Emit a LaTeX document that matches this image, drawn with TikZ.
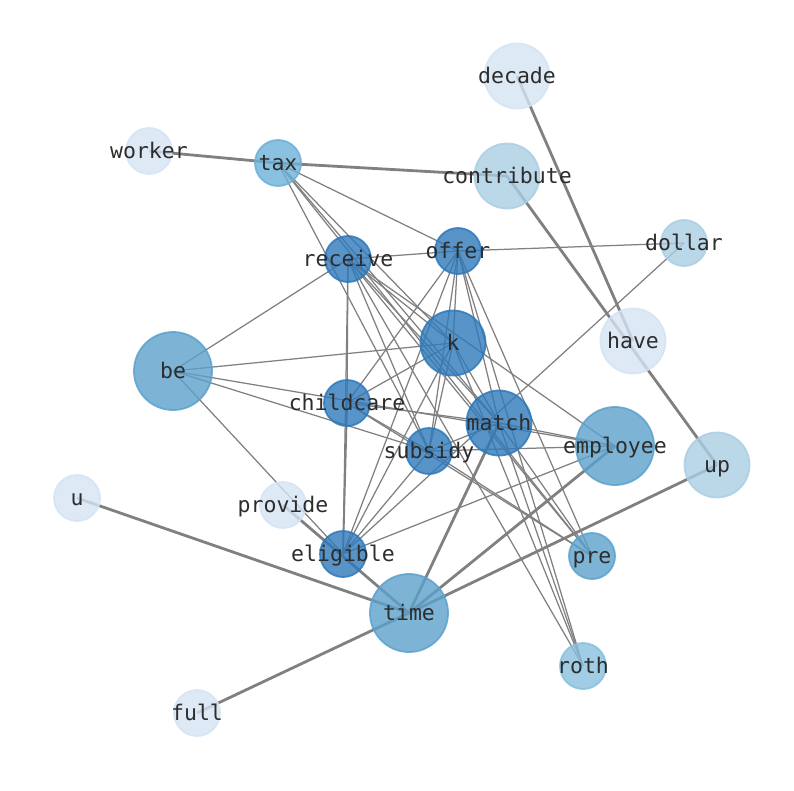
\documentclass[tikz,border=0pt]{standalone}
\usepackage{fontspec}
\setmonofont{DejaVu Sans Mono}
\usetikzlibrary{backgrounds}
\definecolor{cdark}{RGB}{46,121,186}
\definecolor{cmed}{RGB}{92,161,204}
\definecolor{ctax}{RGB}{109,176,216}
\definecolor{croth}{RGB}{136,191,221}
\definecolor{clight}{RGB}{170,206,228}
\definecolor{cvlight}{RGB}{212,227,243}
\definecolor{labelgray}{RGB}{45,45,45}
\definecolor{edgegray}{RGB}{128,128,128}
\tikzset{
  wnode/.style={circle, inner sep=0pt, minimum size=#1, fill opacity=0.8, draw opacity=0.85, line width=1.8pt},
  small/.style={wnode=46pt},
  mid/.style={wnode=65pt},
  big/.style={wnode=78pt},
  dk/.style={fill=cdark, draw=cdark},
  md/.style={fill=cmed, draw=cmed},
  tx/.style={fill=ctax, draw=ctax},
  rt/.style={fill=croth, draw=croth},
  lt/.style={fill=clight, draw=clight},
  vl/.style={fill=cvlight, draw=cvlight},
  lbl/.style={anchor=base, font=\fontsize{21.5}{24}\selectfont\ttfamily, text=labelgray, inner sep=0pt},
  ethin/.style={draw=edgegray, line width=1.25pt},
  emid/.style={draw=edgegray, line width=1.9pt},
  ethick/.style={draw=edgegray, line width=2.8pt}
}
\begin{document}
\begin{tikzpicture}[x=1pt,y=-1pt]
\useasboundingbox (0,0) rectangle (794,790);
% nodes (circles)
\node[mid,vl] (decade) at (517,76) {};
\node[small,vl] (worker) at (149,151) {};
\node[small,tx] (tax) at (278,163) {};
\node[mid,lt] (contribute) at (507,176) {};
\node[small,lt] (dollar) at (684,243) {};
\node[small,dk] (offer) at (458,251) {};
\node[small,dk] (receive) at (348,259) {};
\node[mid,vl] (have) at (633,341) {};
\node[mid,dk] (k) at (453,343) {};
\node[big,md] (be) at (173,371) {};
\node[small,dk] (childcare) at (347,403) {};
\node[mid,dk] (match) at (499,423) {};
\node[big,md] (employee) at (615,446) {};
\node[small,dk] (subsidy) at (429,451) {};
\node[mid,lt] (up) at (717,465) {};
\node[small,vl] (u) at (77,498) {};
\node[small,vl] (provide) at (283,505) {};
\node[small,dk] (eligible) at (343,554) {};
\node[small,md] (pre) at (592,556) {};
\node[big,md] (time) at (409,613) {};
\node[small,rt] (roth) at (583,666) {};
\node[small,vl] (full) at (197,713) {};
% edges
\begin{scope}[on background layer]
\draw[ethick] (worker.center) -- (tax.center);
\draw[ethick] (tax.center) -- (contribute.center);
\draw[ethick] (decade.center) -- (have.center);
\draw[ethick] (contribute.center) -- (up.center);
\draw[ethick] (u.center) -- (time.center);
\draw[ethick] (full.center) -- (time.center);
\draw[ethick] (provide.center) -- (time.center);
\draw[ethick] (match.center) -- (time.center);
\draw[ethick] (employee.center) -- (time.center);
\draw[ethick] (up.center) -- (time.center);
\draw[emid] (childcare.center) -- (eligible.center);
\foreach \a/\b in {tax/offer, tax/subsidy, tax/k, tax/match, tax/pre,
  receive/offer, receive/be, receive/childcare, receive/eligible, receive/subsidy, receive/k, receive/match, receive/employee, receive/pre, receive/roth,
  offer/dollar, offer/k, offer/childcare, offer/subsidy, offer/eligible, offer/match, offer/pre, offer/roth,
  k/be, k/childcare, k/subsidy, k/eligible, k/match, k/roth,
  be/employee, be/subsidy, be/eligible,
  childcare/match, childcare/subsidy, childcare/pre,
  match/subsidy, match/employee, match/pre, match/roth,
  subsidy/employee, subsidy/eligible, subsidy/pre,
  employee/eligible, dollar/eligible}
  \draw[ethin] (\a.center) -- (\b.center);
\end{scope}
% labels
\node[lbl] (decadel) at (517,83) {decade};
\node[lbl] (workerl) at (149,158) {worker};
\node[lbl] (taxl) at (278,170) {tax};
\node[lbl] (contributel) at (507,183) {contribute};
\node[lbl] (dollarl) at (684,250) {dollar};
\node[lbl] (offerl) at (458,258) {offer};
\node[lbl] (receivel) at (348,266) {receive};
\node[lbl] (havel) at (633,348) {have};
\node[lbl] (kl) at (453,350) {k};
\node[lbl] (bel) at (173,378) {be};
\node[lbl] (childcarel) at (347,410) {childcare};
\node[lbl] (matchl) at (499,430) {match};
\node[lbl] (employeel) at (615,453) {employee};
\node[lbl] (subsidyl) at (429,458) {subsidy};
\node[lbl] (upl) at (717,472) {up};
\node[lbl] (ul) at (77,505) {u};
\node[lbl] (providel) at (283,512) {provide};
\node[lbl] (eligiblel) at (343,561) {eligible};
\node[lbl] (prel) at (592,563) {pre};
\node[lbl] (timel) at (409,620) {time};
\node[lbl] (rothl) at (583,673) {roth};
\node[lbl] (fulll) at (197,720) {full};
\end{tikzpicture}
\end{document}
